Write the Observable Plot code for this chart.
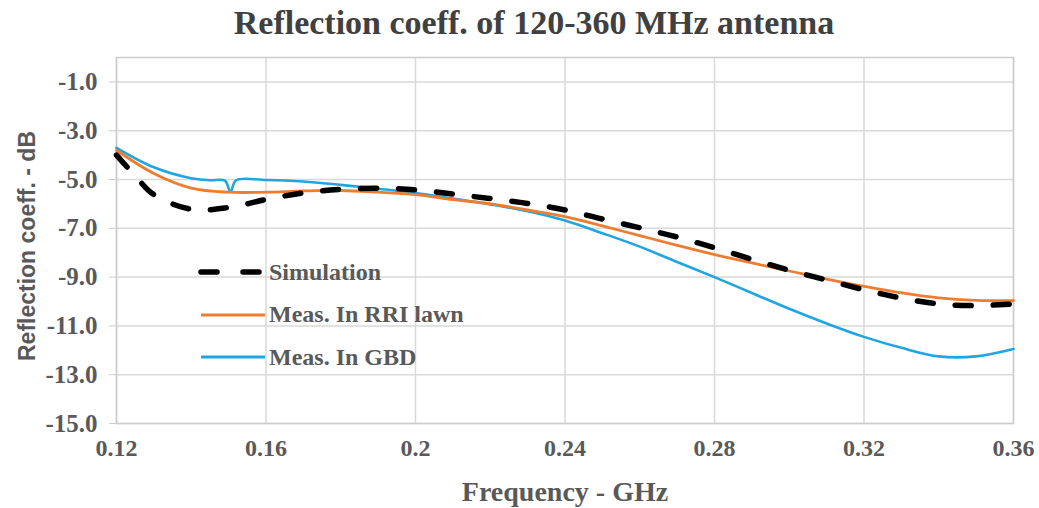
<!DOCTYPE html>
<html>
<head>
<meta charset="utf-8">
<script src="https://cdn.jsdelivr.net/npm/d3@7"></script>
<script src="https://cdn.jsdelivr.net/npm/@observablehq/plot@0.6"></script>
<style>
  body { margin: 0; background: #fff; }
  #wrap { position: relative; width: 1039px; height: 508px; overflow: hidden; }
  #title { height: 46px; width: 1068px; text-align: center; font-family: "Liberation Serif", serif; font-weight: bold; font-size: 34px; color: #404040; line-height: 46px; }
  .ax { position: absolute; font-weight: bold; color: #595959; white-space: nowrap; }
  #ylab { font-family: "Liberation Sans", sans-serif; font-size: 23px; left: 27px; top: 246px; transform: translate(-50%, -50%) rotate(-90deg); }
  #xlab { font-family: "Liberation Serif", serif; font-size: 28px; left: 565px; top: 492px; transform: translate(-50%, -50%); }
  #legend { position: absolute; left: 198px; top: 251px; font-family: "Liberation Serif", serif; font-weight: bold; font-size: 24px; color: #595959; }
  .item { display: flex; align-items: center; height: 42.5px; }
  .item svg { margin-right: 3px; }
</style>
</head>
<body>
<div id="wrap">
  <div id="title">Reflection coeff. of 120-360 MHz antenna</div>
  <div id="chart"></div>
  <div id="ylab" class="ax">Reflection coeff. - dB</div>
  <div id="xlab" class="ax">Frequency - GHz</div>
  <div id="legend"></div>
</div>
<script>
const seriesNames = ["Simulation", "Meas. In RRI lawn", "Meas. In GBD"];
const seriesColors = ["#000000", "#ED7D31", "#1FA5E0"];

const simFreq = [0.12, 0.125, 0.13, 0.14, 0.15, 0.16, 0.17, 0.18, 0.19, 0.20, 0.21, 0.22, 0.23, 0.24, 0.25, 0.26, 0.27, 0.28, 0.29, 0.30, 0.31, 0.32, 0.33, 0.34, 0.35, 0.36];
const simDb   = [-4.0, -4.85, -5.62, -6.22, -6.15, -5.82, -5.55, -5.40, -5.36, -5.42, -5.60, -5.78, -5.98, -6.25, -6.62, -6.98, -7.36, -7.80, -8.27, -8.72, -9.12, -9.52, -9.86, -10.10, -10.17, -10.10];

const rriFreq = [0.12, 0.13, 0.14, 0.15, 0.16, 0.17, 0.18, 0.19, 0.20, 0.21, 0.22, 0.23, 0.24, 0.25, 0.26, 0.27, 0.28, 0.29, 0.30, 0.31, 0.32, 0.33, 0.34, 0.35, 0.36];
const rriDb   = [-3.8, -4.75, -5.35, -5.52, -5.52, -5.47, -5.45, -5.52, -5.62, -5.82, -6.00, -6.25, -6.52, -6.90, -7.30, -7.70, -8.08, -8.42, -8.75, -9.08, -9.38, -9.65, -9.85, -9.95, -9.97];

const gbdFreq = [0.12, 0.13, 0.14, 0.145, 0.149, 0.1505, 0.152, 0.16, 0.17, 0.18, 0.19, 0.20, 0.21, 0.22, 0.23, 0.24, 0.25, 0.26, 0.27, 0.28, 0.29, 0.30, 0.31, 0.32, 0.33, 0.34, 0.35, 0.36];
const gbdDb   = [-3.7, -4.5, -4.95, -5.03, -5.05, -5.5, -5.03, -5.02, -5.08, -5.22, -5.38, -5.55, -5.78, -6.02, -6.30, -6.68, -7.20, -7.75, -8.38, -9.00, -9.65, -10.30, -10.90, -11.45, -11.90, -12.25, -12.25, -11.95];

const xTicks = [0.12, 0.16, 0.2, 0.24, 0.28, 0.32, 0.36];
const yTicks = [-15, -13, -11, -9, -7, -5, -3, -1];

const toRows = (fs, vs) => fs.map((f, i) => ({f, v: vs[i]}));
const sim = toRows(simFreq, simDb);
const rri = toRows(rriFreq, rriDb);
const gbd = toRows(gbdFreq, gbdDb);

const chart = Plot.plot({
  width: 1039,
  height: 462,
  marginLeft: 116,
  marginRight: 26,
  marginTop: 11,
  marginBottom: 85,
  style: {fontFamily: "Liberation Serif, serif", fontWeight: "bold", color: "#595959", background: "#fff"},
  x: {domain: [0.12, 0.36], label: null},
  y: {domain: [-15, 0], label: null},
  marks: [
    Plot.gridY(yTicks, {stroke: "#d9d9d9", strokeOpacity: 1, strokeWidth: 1.5}),
    Plot.gridX(xTicks, {stroke: "#d9d9d9", strokeOpacity: 1, strokeWidth: 1.5}),
    Plot.frame({stroke: "#cccccc", strokeWidth: 1.5}),
    Plot.axisY(yTicks, {tickSize: 7, tickPadding: 12, stroke: "#cccccc", fontSize: 25, fill: "#595959", tickFormat: d => d.toFixed(1), label: null}),
    Plot.axisX(xTicks, {tickSize: 0, tickPadding: 15, fontSize: 24, fill: "#595959", tickFormat: d => String(+d.toFixed(2)), label: null}),
    Plot.line(gbd, {x: "f", y: "v", stroke: seriesColors[2], strokeWidth: 2.6, curve: "catmull-rom"}),
    Plot.line(rri, {x: "f", y: "v", stroke: seriesColors[1], strokeWidth: 2.8, curve: "catmull-rom"}),
    Plot.line(sim, {x: "f", y: "v", stroke: seriesColors[0], strokeWidth: 5.5, strokeDasharray: "16,22", strokeLinecap: "round", curve: "catmull-rom"})
  ]
});
document.getElementById("chart").appendChild(chart);

const legend = document.getElementById("legend");
seriesNames.forEach((name, i) => {
  const dashed = i === 0;
  const sw = dashed
    ? `<svg width="68" height="12"><line x1="3" y1="6" x2="65" y2="6" stroke="${seriesColors[i]}" stroke-width="5.5" stroke-linecap="round" stroke-dasharray="16,26"/></svg>`
    : `<svg width="68" height="12"><line x1="3" y1="6" x2="67" y2="6" stroke="${seriesColors[i]}" stroke-width="3"/></svg>`;
  const d = document.createElement("div");
  d.className = "item";
  d.innerHTML = sw + `<span>${name}</span>`;
  legend.appendChild(d);
});
</script>
</body>
</html>
